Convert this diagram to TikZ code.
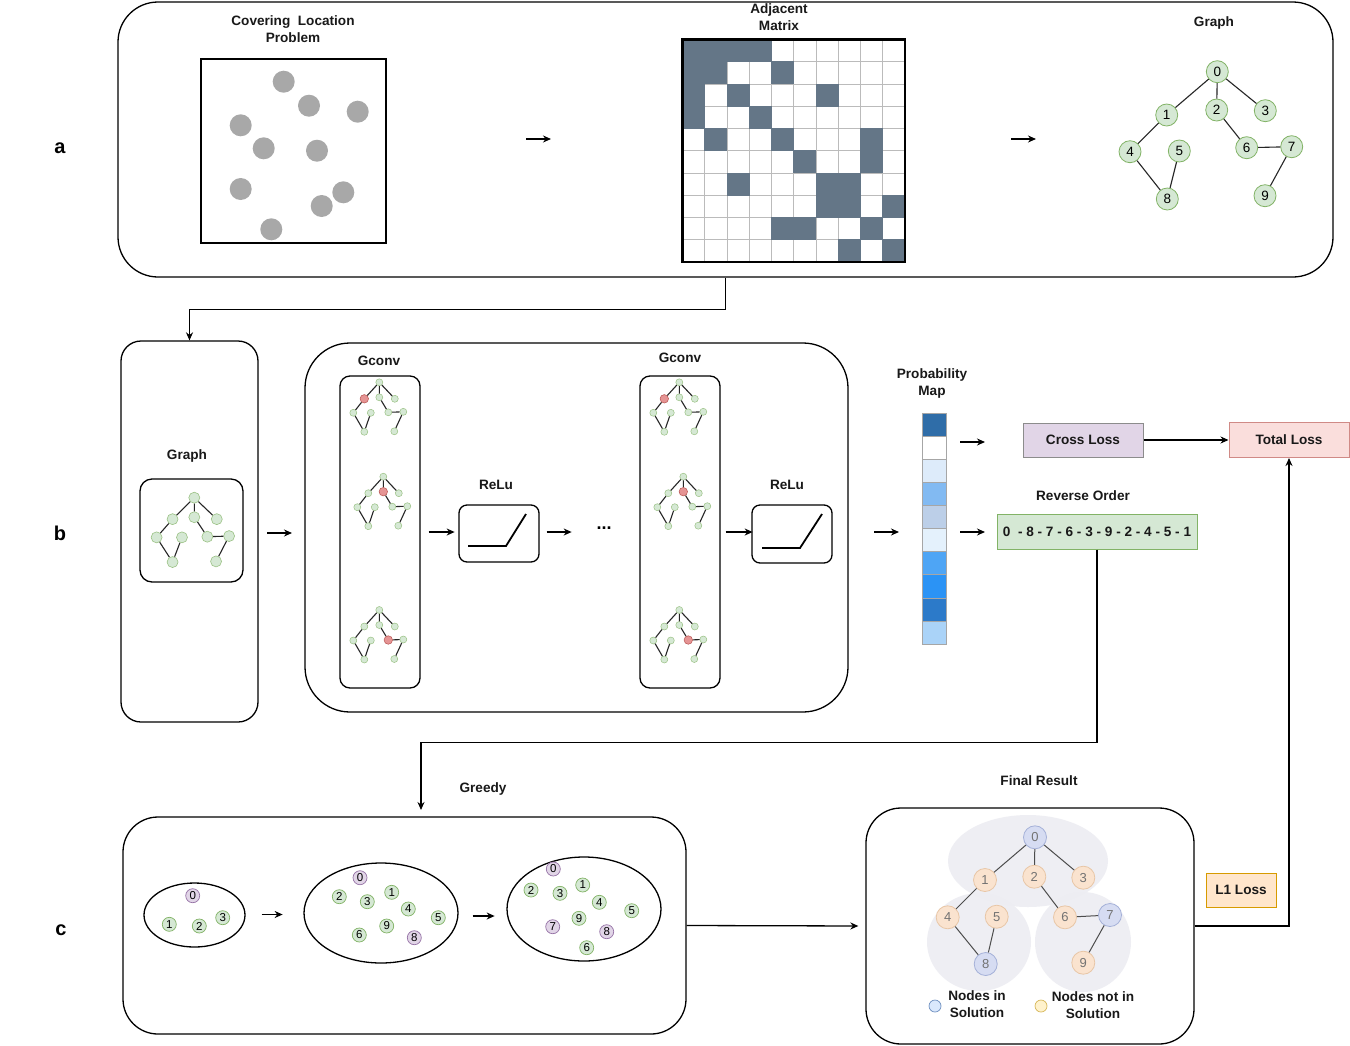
\documentclass[tikz,border=0pt]{standalone}
\usepackage{fontspec}
\setmainfont{Liberation Sans}
\usetikzlibrary{arrows.meta,shapes.geometric}
\definecolor{gfill}{HTML}{D5E8D4}
\definecolor{gdraw}{HTML}{82B366}
\definecolor{pfill}{HTML}{E1D5E7}
\definecolor{pdraw}{HTML}{9673A6}
\definecolor{matdark}{HTML}{647687}
\definecolor{gridc}{HTML}{BBBBBB}
\definecolor{dotgray}{HTML}{A8A8A8}
\definecolor{redf}{HTML}{E59494}
\definecolor{redd}{HTML}{B85450}
\definecolor{tlfill}{HTML}{FADEDC}
\definecolor{tldraw}{HTML}{D08A86}
\definecolor{l1fill}{HTML}{FFE6CC}
\definecolor{l1draw}{HTML}{D79B00}
\definecolor{bnf}{HTML}{D6DCF2}
\definecolor{bnd}{HTML}{A4B0D8}
\definecolor{onf}{HTML}{FAE3CF}
\definecolor{ond}{HTML}{E8C6A6}
\definecolor{blob}{HTML}{EDEDF2}
\definecolor{pmA}{HTML}{2F6DA8}
\definecolor{pmB}{HTML}{FFFFFF}
\definecolor{pmC}{HTML}{DDEBFA}
\definecolor{pmD}{HTML}{82BAF2}
\definecolor{pmE}{HTML}{BCCFE8}
\definecolor{pmF}{HTML}{E4F1FC}
\definecolor{pmG}{HTML}{4EA5F5}
\definecolor{pmH}{HTML}{2B93F5}
\definecolor{pmI}{HTML}{2C7AC9}
\definecolor{pmJ}{HTML}{AAD3F8}
\definecolor{legb}{HTML}{DAE8FC}
\definecolor{legbd}{HTML}{6C8EBF}
\definecolor{lego}{HTML}{FFF2CC}
\definecolor{legod}{HTML}{D6B656}
\tikzset{
  lbl/.style={font=\bfseries\fontsize{13.6}{17}\selectfont, text=black!90, align=center},
  big/.style={font=\bfseries\fontsize{20}{24}\selectfont},
  box/.style={draw, line width=1.3pt, inner sep=0pt},
  arr/.style={line width=1.3pt, -{Stealth[length=8pt,width=7pt]}},
  numnode/.style={circle, fill=gfill, draw=gdraw, line width=0.8pt, minimum size=22pt, inner sep=0pt, font=\fontsize{13.5}{13.5}\selectfont},
  gnum/.style={circle, fill=gfill, draw=gdraw, line width=0.7pt, minimum size=14pt, inner sep=0pt, font=\fontsize{11.5}{11.5}\selectfont},
  pnum/.style={gnum, fill=pfill, draw=pdraw},
  fnode/.style={circle, line width=0.8pt, minimum size=23pt, inner sep=0pt, font=\fontsize{13}{13}\selectfont, text=black!55},
  fb/.style={fnode, fill=bnf, draw=bnd},
  fo/.style={fnode, fill=onf, draw=ond},
  snode/.style={circle, fill=gfill, draw=gdraw!80, line width=0.5pt, minimum size=7pt, inner sep=0pt},
  bnode/.style={circle, fill=gfill, draw=gdraw!80, line width=0.6pt, minimum size=11pt, inner sep=0pt},
  rnode/.style={fill=redf, draw=redd, minimum size=8.5pt},
  sedge/.style={line width=1.1pt, black!85},
  gedge/.style={line width=1.1pt, black!85},
  fedge/.style={line width=1pt, black!70},
}
\newcommand\sgraph[7]{%
\begin{scope}[shift={(#2,#3)}]
\foreach \i/\a/\b in {0/0/0,1/-15/16.5,2/0/15,3/15.5/16.5,4/-26/30.5,5/-8.5/30.5,6/9/30,7/24/29.5,8/-15/49.5,9/15/49}{
  \ifnum\i=#7\relax
    \node[#6,rnode] (#1\i) at ({\a*#4},{\b*#5}) {};
  \else
    \node[#6] (#1\i) at ({\a*#4},{\b*#5}) {};
  \fi
}
\draw[sedge] (#10)--(#11) (#10)--(#12) (#10)--(#13) (#11)--(#14) (#14)--(#18) (#15)--(#18) (#12)--(#16) (#16)--(#17) (#17)--(#19);
\end{scope}}
\begin{document}
\begin{tikzpicture}[x=1pt,y=-1pt]
\useasboundingbox (0,0) rectangle (1350,1045);
\fill[white] (0,0) rectangle (1350,1045);

% ---------- panel a ----------
\node[box, rounded corners=40pt, minimum width=1215pt, minimum height=275pt] (pa) at (725.5,139.5) {};
\node[big] (la) at (60,148) {a};
\node[lbl] (tcov) at (293,29) {Covering~~Location\\Problem};
\node[box, minimum width=185pt, minimum height=184pt] (sq) at (293.5,151) {};
\foreach \k/\x/\y in {1/283.7/81.7,2/309/105.7,3/357.7/111.7,4/240.7/125.3,5/263.7/148.3,6/317/150.7,7/240.7/189,8/343.3/192.3,9/321.7/206,10/271.3/229.3}
  \node[circle, fill=dotgray, minimum size=22pt, inner sep=0pt] (dot\k) at (\x,\y) {};
\coordinate (a1s) at (526,139); \coordinate (a1e) at (551,139);
\draw[arr] (a1s) -- (a1e);
\node[lbl] (tadj) at (779,17) {Adjacent\\Matrix};
% matrix
\fill[white] (682.5,39.5) rectangle ++(222.5,222.5);
\foreach \k in {1,...,9}{
  \draw[gridc, line width=0.9pt] ({682.5+\k*22.25},39.5) -- ++(0,222.5);
  \draw[gridc, line width=0.9pt] (682.5,{39.5+\k*22.25}) -- ++(222.5,0);
}
\foreach \r/\cols in {0/{0,1,2,3},1/{0,1,4},2/{0,2,6},3/{0,3},4/{1,4,8},5/{5,8},6/{2,6,7},7/{6,7,9},8/{4,5,8},9/{7,9}}{
  \foreach \c in \cols {
    \fill[matdark] ({682.5+\c*22.25-0.3},{39.5+\r*22.25-0.3}) rectangle ++(22.85,22.85);
  }
}
\node[draw, line width=2.6pt, minimum size=222.5pt, inner sep=0pt] (mat) at (793.75,150.75) {};
\coordinate (a2s) at (1011,139); \coordinate (a2e) at (1036,139);
\draw[arr] (a2s) -- (a2e);
\node[lbl] (tgraph) at (1214,23) {Graph};
\foreach \i/\x/\y in {0/1217.3/71.7,1/1166.7/115,2/1216.7/110,3/1265.3/110.7,4/1130/151.7,5/1179.3/151,6/1246.7/147.7,7/1291.7/146.7,8/1167.3/199,9/1265/195.7}
  \node[numnode] (g\i) at (\x,\y) {\i};
\draw[gedge] (g0)--(g1) (g0)--(g2) (g0)--(g3) (g1)--(g4) (g4)--(g8) (g5)--(g8) (g2)--(g6) (g6)--(g7) (g7)--(g9);

% ---------- panel b ----------
\node[big] (lb) at (60,533) {b};
\node[box, rounded corners=20pt, minimum width=137pt, minimum height=381pt] (gbox) at (189.5,531.5) {};
\draw[arr] (pa.south) -- ++(0,32) -| (gbox.north);
\node[lbl] (tgraph2) at (187,456) {Graph};
\node[box, rounded corners=12pt, minimum width=103pt, minimum height=103pt] (ginner) at (191.5,530.5) {};
\sgraph{bg}{194.3}{497.7}{1.45}{1.3}{bnode}{-1}
\coordinate (b1s) at (267,533); \coordinate (b1e) at (292,533);
\draw[arr] (b1s) -- (b1e);
\node[box, rounded corners=45pt, minimum width=543pt, minimum height=369pt] (pb) at (576.5,527.5) {};
\node[lbl] (tgc1) at (379,361) {Gconv};
\node[lbl] (tgc2) at (680,358) {Gconv};
\node[box, rounded corners=10pt, minimum width=80pt, minimum height=312pt] (gconvA) at (380,532) {};
\node[box, rounded corners=10pt, minimum width=80pt, minimum height=312pt] (gconvB) at (680,532) {};
\sgraph{sga}{379.3}{382.3}{1}{1}{snode}{1}
\sgraph{sgb}{383.3}{476.7}{1}{1}{snode}{2}
\sgraph{sgc}{379.3}{610}{1}{1}{snode}{6}
\sgraph{sgd}{679.3}{382.3}{1}{1}{snode}{1}
\sgraph{sge}{683.3}{476.7}{1}{1}{snode}{2}
\sgraph{sgf}{679.3}{610}{1}{1}{snode}{6}
\node[lbl] (trelu1) at (496,485) {ReLu};
\node[lbl] (trelu2) at (787,485) {ReLu};
\node[box, rounded corners=8pt, minimum width=80pt, minimum height=57pt] (relu1) at (499,533.5) {};
\node[box, rounded corners=8pt, minimum width=80pt, minimum height=58pt] (relu2) at (792,534) {};
\draw[line width=1.8pt] (468,546) -- (506,546) -- (526,514);
\draw[line width=1.8pt] (762,548) -- (800,548) -- (822,514);
\draw[arr] (gconvA.east) ++(8,0) -- ++(26,0);
\draw[arr] (relu1.east) ++(7,-1.5) -- ++(25,0);
\node[font=\bfseries\fontsize{18}{18}\selectfont] (dots) at (604,528) {...};
\draw[arr] (gconvB.east) ++(5,0) -- ++(27,0);
\coordinate (b2s) at (874,532); \coordinate (b2e) at (899,532);
\draw[arr] (b2s) -- (b2e);
\node[lbl] (tprob) at (932,383) {Probability\\Map};
\foreach \i/\col in {1/pmA,2/pmB,3/pmC,4/pmD,5/pmE,6/pmF,7/pmG,8/pmH,9/pmI,10/pmJ}
  \node[draw=black!35, fill=\col, line width=0.6pt, minimum width=24pt, minimum height=23.1pt, inner sep=0pt] (pm\i) at (934,{413+23.1*(\i-0.5)}) {};
\coordinate (p1s) at (960,442); \coordinate (p1e) at (985,442);
\draw[arr] (p1s) -- (p1e);
\coordinate (p2s) at (960,532); \coordinate (p2e) at (985,532);
\draw[arr] (p2s) -- (p2e);
\node[box, line width=1pt, draw=black!45, fill=pfill, minimum width=120pt, minimum height=34pt, lbl] (cl) at (1083,440) {Cross Loss};
\node[box, line width=1pt, draw=tldraw, fill=tlfill, minimum width=120pt, minimum height=35pt, lbl] (tl) at (1289,440) {Total Loss};
\draw[arr] (cl.east) -- (tl.west);
\node[lbl] (trev) at (1083,496) {Reverse Order};
\node[box, line width=1pt, draw=gdraw, fill=gfill, minimum width=200pt, minimum height=35pt, lbl] (rev) at (1097,531.5) {0~~- 8 - 7 - 6 - 3 - 9 - 2 - 4 - 5 - 1};

% ---------- panel c ----------
\node[big] (lc) at (61,930) {c};
\coordinate (gend) at (421,810);
\draw[arr] (rev.south) -- ++(0,193) -| (gend);
\node[lbl] (tgreedy) at (483,789) {Greedy};
\node[box, rounded corners=35pt, minimum width=563pt, minimum height=217pt] (pc) at (404.5,925.5) {};
\node[ellipse, draw, line width=1.3pt, minimum width=101pt, minimum height=64pt, inner sep=0pt] (e1) at (194.5,915) {};
\node[ellipse, draw, line width=1.3pt, minimum width=154pt, minimum height=100pt, inner sep=0pt] (e2) at (381,913) {};
\node[ellipse, draw, line width=1.3pt, minimum width=154pt, minimum height=104pt, inner sep=0pt] (e3) at (584,909) {};
\node[pnum] (a0) at (192.7,895.7) {0};
\node[gnum] (a1) at (169.3,924.3) {1};
\node[gnum] (a2) at (199.3,926) {2};
\node[gnum] (a3) at (222.7,917.7) {3};
\node[pnum] (b0) at (360,877.7) {0};
\node[gnum] (b2) at (339.3,896.7) {2};
\node[gnum] (b3) at (367.3,901.7) {3};
\node[gnum] (b1) at (391.7,892.3) {1};
\node[gnum] (b4) at (408.3,909) {4};
\node[gnum] (b9) at (386.7,926) {9};
\node[gnum] (b6) at (359.3,935) {6};
\node[gnum] (b5) at (438.3,917.7) {5};
\node[pnum] (b8) at (414.3,937.7) {8};
\node[pnum] (c0) at (553.3,869) {0};
\node[gnum] (c2) at (531,890) {2};
\node[gnum] (c3) at (560,893.3) {3};
\node[gnum] (c1) at (582.7,885) {1};
\node[gnum] (c4) at (599.3,902.3) {4};
\node[gnum] (c5) at (631.7,910.7) {5};
\node[gnum] (c9) at (579,918.3) {9};
\node[pnum] (c7) at (552.7,926.7) {7};
\node[pnum] (c8) at (606.7,931.7) {8};
\node[gnum] (c6) at (586.7,947.7) {6};
\draw[arr] (e1.east) ++(16,-0.5) -- ++(21,0);
\draw[arr] (e2.east) ++(14,3) -- ++(22,0);
\node[lbl] (tfinal) at (1039,781) {Final Result};
\node[box, rounded corners=35pt, minimum width=328pt, minimum height=236pt] (fr) at (1030,926) {};
\draw[arr, shorten >=7pt] (pc.east) -- (fr.west);
\fill[blob, opacity=0.9] (1028,861) ellipse [x radius=80, y radius=46];
\fill[blob, opacity=0.9] (979,942) ellipse [x radius=52, y radius=49];
\fill[blob, opacity=0.9] (1083,942) ellipse [x radius=48, y radius=50];
\node[fb] (f0) at (1035,837.3) {0};
\node[fo] (f1) at (985,880) {1};
\node[fo] (f2) at (1034.3,876.7) {2};
\node[fo] (f3) at (1083.3,877.7) {3};
\node[fo] (f4) at (947.7,917.3) {4};
\node[fo] (f5) at (996.7,916.7) {5};
\node[fo] (f6) at (1065,917.3) {6};
\node[fb] (f7) at (1110,915) {7};
\node[fb] (f8) at (985.7,964) {8};
\node[fo] (f9) at (1083.3,962.7) {9};
\draw[fedge] (f0)--(f1) (f0)--(f2) (f0)--(f3) (f1)--(f4) (f4)--(f8) (f5)--(f8) (f2)--(f6) (f6)--(f7) (f7)--(f9);
\node[circle, fill=legb, draw=legbd, line width=0.7pt, minimum size=12pt, inner sep=0pt] (legin) at (935,1006) {};
\node[lbl] (tlegin) at (977,1004.5) {Nodes in\\Solution};
\node[circle, fill=lego, draw=legod, line width=0.7pt, minimum size=12pt, inner sep=0pt] (legout) at (1041,1006) {};
\node[lbl] (tlegout) at (1093,1005.5) {Nodes not in\\Solution};
\node[box, line width=1pt, draw=l1draw, fill=l1fill, minimum width=70pt, minimum height=34pt, lbl] (l1) at (1241,890) {L1 Loss};
\draw[arr] (fr.east) -| (tl.south);
\end{tikzpicture}
\end{document}
